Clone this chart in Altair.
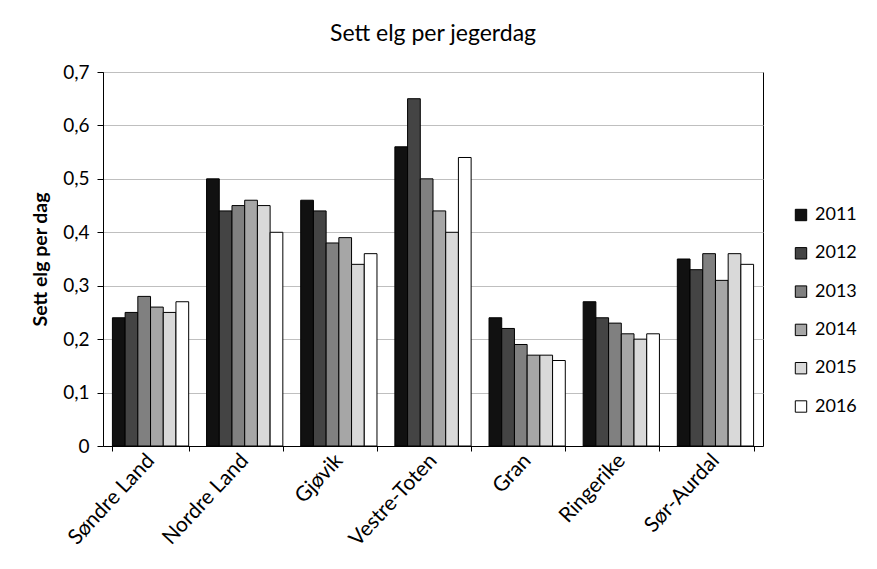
import altair as alt
import pandas as pd

kommuner = ["Søndre Land", "Nordre Land", "Gjøvik", "Vestre-Toten", "Gran", "Ringerike", "Sør-Aurdal"]
years = ["2011", "2012", "2013", "2014", "2015", "2016"]
v2011 = [0.24, 0.50, 0.46, 0.56, 0.24, 0.27, 0.35]
v2012 = [0.25, 0.44, 0.44, 0.65, 0.22, 0.24, 0.33]
v2013 = [0.28, 0.45, 0.38, 0.50, 0.19, 0.23, 0.36]
v2014 = [0.26, 0.46, 0.39, 0.44, 0.17, 0.21, 0.31]
v2015 = [0.25, 0.45, 0.34, 0.40, 0.17, 0.20, 0.36]
v2016 = [0.27, 0.40, 0.36, 0.54, 0.16, 0.21, 0.34]
colors = ["#111111", "#444444", "#808080", "#a6a6a6", "#d9d9d9", "#ffffff"]

series = [v2011, v2012, v2013, v2014, v2015, v2016]
rows = []
for y, vals in zip(years, series):
    for k, v in zip(kommuner, vals):
        rows.append({"kommune": k, "year": y, "value": v})
df = pd.DataFrame(rows)

FONT = "Lato"

chart = alt.Chart(df).mark_bar(stroke="black", strokeWidth=1).encode(
    x=alt.X("kommune:N", sort=kommuner, title=None,
            scale=alt.Scale(paddingInner=0.19, paddingOuter=0.1),
            axis=alt.Axis(labelAngle=-47, labelAlign="right", labelBaseline="middle",
                          labelFontSize=21, labelFont=FONT, labelColor="black",
                          domainColor="black", ticks=True, tickBand="extent",
                          tickColor="black", tickSize=5, labelPadding=6)),
    xOffset=alt.XOffset("year:N", sort=years),
    y=alt.Y("value:Q", title="Sett elg per dag",
            scale=alt.Scale(domain=[0, 0.7], nice=False),
            axis=alt.Axis(values=[0, 0.1, 0.2, 0.3, 0.4, 0.5, 0.6, 0.7],
                          labelExpr="datum.value == 0 ? '0' : replace(format(datum.value, '.1f'), '.', ',')",
                          labelFontSize=19, labelFont=FONT, labelColor="black",
                          titleFont=FONT, titleFontSize=19.5, titleFontWeight="bold",
                          titleColor="black", titlePadding=12,
                          domainColor="black", tickColor="black", tickSize=6,
                          gridColor="#bfbfbf", labelPadding=8)),
    color=alt.Color("year:N", sort=years,
                    scale=alt.Scale(domain=years, range=colors),
                    legend=alt.Legend(title=None, orient="none", legendX=689, legendY=134,
                                      symbolType="square", symbolSize=130,
                                      symbolStrokeColor="black", symbolStrokeWidth=1,
                                      labelFontSize=18, labelFont=FONT, labelColor="black",
                                      rowPadding=20.3, labelOffset=5)),
).properties(
    width=660, height=374,
    title=alt.TitleParams("Sett elg per jegerdag", font=FONT, fontSize=23,
                          fontWeight="normal", color="black", anchor="middle", offset=17),
    autosize=alt.AutoSizeParams(type="none"),
    padding={"left": 103, "top": 72, "right": 114, "bottom": 123},
).configure_view(stroke="black", strokeWidth=1)

chart.save("out.html", embed_options={"renderer": "svg", "actions": False})
